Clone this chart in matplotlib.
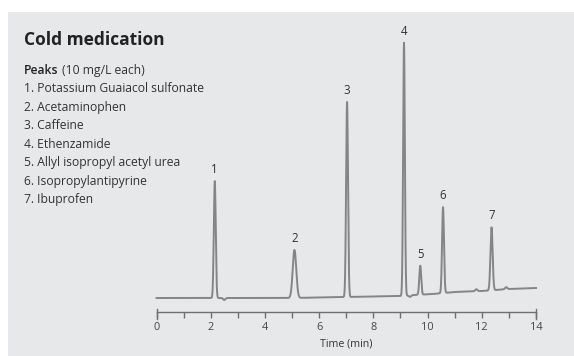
import matplotlib.pyplot as plt
import numpy as np
from matplotlib.patches import Rectangle

# peaks (retention time in min, height above baseline, width)
peak_ids = ['1', '2', '3', '4', '5', '6', '7']
peak_times = [2.15, 5.09, 7.03, 9.13, 9.73, 10.57, 12.36]
peak_heights = [117, 48, 195, 253, 29, 86, 63]
peak_sigma = [0.035, 0.065, 0.035, 0.032, 0.035, 0.035, 0.04]

# small bumps / dips in the baseline
blip_times = [2.5, 9.35, 11.8, 12.9]
blip_heights = [-2, -1.5, 2, 2]

# baseline drift (time, level)
base_t = [0, 2, 5, 7, 9, 9.5, 10.2, 11, 12, 13, 14]
base_y = [14, 14, 14, 15, 16, 17, 18, 20, 21, 23, 24]

legend_lines = ['1. Potassium Guaiacol sulfonate',
                '2. Acetaminophen',
                '3. Caffeine',
                '4. Ethenzamide',
                '5. Allyl isopropyl acetyl urea',
                '6. Isopropylantipyrine',
                '7. Ibuprofen']

plt.rcParams['font.family'] = ['Open Sans', 'DejaVu Sans']

W, H = 574, 356
fig = plt.figure(figsize=(W / 100, H / 100), dpi=100, facecolor='white')
bg = '#e7e8e9'
fig.patches.append(Rectangle((8 / W, 0), 1 - 8 / W, (H - 12) / H,
                             transform=fig.transFigure, facecolor=bg,
                             edgecolor='none', zorder=-5))

ax = fig.add_axes([156.5 / W, 44 / H, 379.5 / W, 292 / H])
ax.set_facecolor('none')
ax.set_zorder(2)

t = np.linspace(0, 14, 4000)
sig = np.interp(t, base_t, base_y)
for pt, ph, ps in zip(peak_times, peak_heights, peak_sigma):
    sig = sig + ph * np.exp(-0.5 * ((t - pt) / ps) ** 2)
for bt, bh in zip(blip_times, blip_heights):
    sig = sig + bh * np.exp(-0.5 * ((t - bt) / 0.04) ** 2)

ax.plot(t, sig, color='#858585', lw=1.4, solid_joinstyle='round', clip_on=False)

for pid, pt, ph in zip(peak_ids, peak_times, peak_heights):
    top = np.interp(pt, base_t, base_y) + ph
    ax.annotate(pid, (pt, top), xytext=(0, 3.5), textcoords='offset points',
                ha='center', va='bottom', fontsize=8.3, color='#333333')

ax.set_xlim(0, 14)
ax.set_ylim(0, 292)
for s in ['left', 'right', 'top']:
    ax.spines[s].set_visible(False)
ax.spines['bottom'].set_color('#6f6f6f')
ax.spines['bottom'].set_linewidth(1.0)
ax.set_yticks([])
ax.set_xticks(range(0, 15, 2))
ax.set_xticks(range(1, 14, 2), minor=True)
ax.tick_params(axis='x', which='both', direction='out', length=4, width=1,
               color='#6f6f6f', labelsize=7.9, labelcolor='#444444', pad=3)
ax.set_xlabel('Time (min)', fontsize=7.7, color='#333333', labelpad=4)

# longer end ticks at 0 and 14
for xe in [0, 14]:
    ax.plot([xe, xe], [-7, 3], color='#6f6f6f', lw=1, clip_on=False)

# title and peak list
fig.text(24 / W, 1 - 45 / H, 'Cold medication', fontsize=12.5, fontweight='bold',
         color='#222222', va='baseline')
fig.text(24 / W, 1 - 74 / H, 'Peaks', fontsize=8.7, fontweight='semibold',
         color='#222222', va='baseline')
fig.text(62 / W, 1 - 74 / H, '(10 mg/L each)', fontsize=8.7,
         color='#333333', va='baseline')
for i, line in enumerate(legend_lines):
    fig.text(24 / W, 1 - (92.3 + i * 18.45) / H, line, fontsize=8.7,
             color='#333333', va='baseline')

fig.savefig('out.png', dpi=100, facecolor='white')
